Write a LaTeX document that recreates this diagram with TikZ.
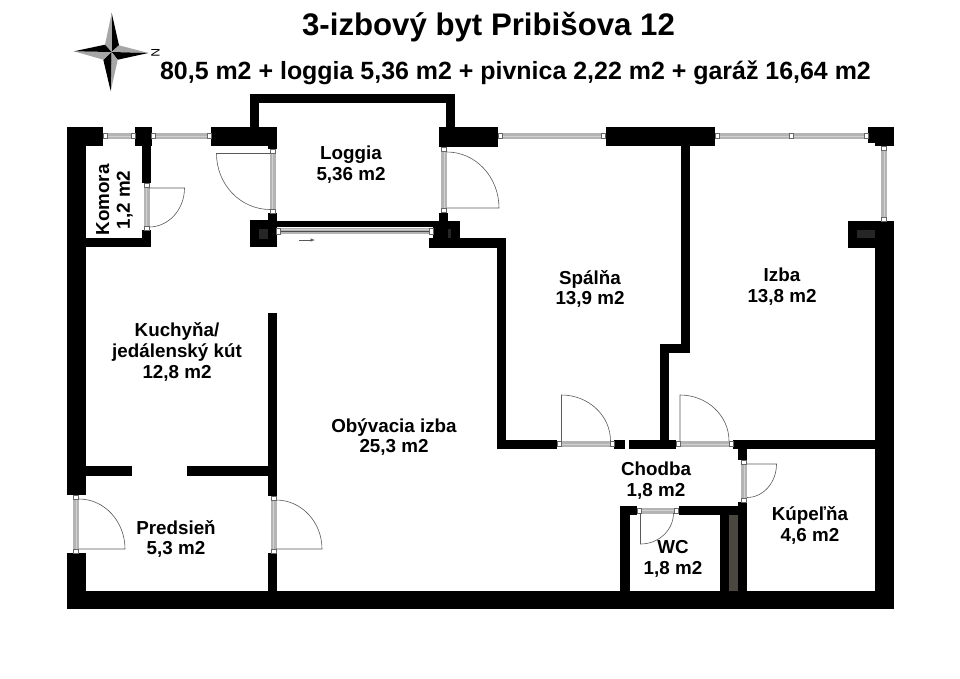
\documentclass[tikz,border=0pt]{standalone}
\usepackage{fontspec}
\setmainfont{Liberation Sans}
\definecolor{windowgrey}{HTML}{B4B4B4}
\definecolor{flue}{HTML}{262626}
\definecolor{shaft}{HTML}{4A4640}
\tikzset{
  wall/.style={fill=black},
  roomlabel/.style={font=\bfseries\fontsize{18.8}{20.8}\selectfont,align=center,inner sep=0pt},
  doorleaf/.style={draw=black!65,line width=0.6pt},
  pane/.style={fill=windowgrey},
  paneline/.style={draw=black!18,line width=0.5pt},
  stop/.style={draw=black!60,fill=white,line width=0.5pt}
}
\begin{document}
\begin{tikzpicture}[x=1pt,y=-1pt]
      \useasboundingbox (0,0) rectangle (960,678);
      \foreach \xa/\ya/\xb/\yb in {67/127/103/146,67/127/85.5/495,67/553/85.5/609,67/591/893.5/609,
        85/238/151/247,135/127/151.5/146,142/146/151/183,142/230/151/247,
        211/127/277/146,268/146/277/149,249.5/93.5/258.5/127,249.5/93.5/454.5/102.5,445.5/93.5/454.5/127,
        439/127/498/147,249.5/220/277/247,268/213/277/220,277/220.5/439/227,
        439/212.5/448/221,433/220.5/460/238,429/238/505.5/247.5,496.5/238/505.5/448.5,496.5/440/557/448.5,
        614/440/625/448.5,628.5/440/676/448.5,660/344/669/448.5,660/344/690/352.5,680.5/146/689.5/352.5,
        605.5/127/715/146,868/127/893.5/143,875/143/893.5/146,847.5/221/893.5/247.5,875/221/893.5/609,
        733/440/875/448.5,738/448/747/460,738/502/747/591,
        620/506/629.5/591,620/506/637/515,678.5/506/738/515,720/515/729/591,
        85/466/131.5/475.5,187/466/268/475.5,268/313/277/496,268/553/277/591}{
        \fill [wall] (\xa,\ya) rectangle (\xb,\yb);
      }
      \fill [flue] (258.7,229) rectangle (268,238.7);
      \fill [flue] (856.7,230) rectangle (875,238.3);
      \fill [flue] (448,229) rectangle (451,238);
      \fill [shaft] (729,515) rectangle (738,591);
      % windows and door frames along x
      \foreach \xa/\xb/\y in {103/135/136,151.5/211/136,498/605.5/136,715/868/136,
        557/614/444,676/733/444,637/678.5/510.5}{
        \fill [pane] (\xa,\y-3) rectangle (\xb,\y+3);
        \draw [paneline] (\xa,\y) -- (\xb,\y);
        \draw [stop] (\xa,\y-2.5) rectangle ++ (4,5);
        \draw [stop] (\xb-4,\y-2.5) rectangle ++ (4,5);
      }
      \draw [stop] (789.5,133.5) rectangle ++ (3.6,5);
      % the same along y
      \foreach \x/\ya/\yb in {146.5/183/230,272.5/149/213,444/147/212.5,884/146/221,
        76/495/553,273.5/496/553,744/460/502}{
        \fill [pane] (\x-3,\ya) rectangle (\x+3,\yb);
        \draw [paneline] (\x,\ya) -- (\x,\yb);
        \draw [stop] (\x-2.5,\ya) rectangle ++ (5,4);
        \draw [stop] (\x-2.5,\yb-4) rectangle ++ (5,4);
      }
      \fill [pane] (276,228) rectangle (433,234);
      \draw [paneline] (278,229.5) -- (431,229.5);
      \draw [black!70,line width=0.9pt] (279,231.5) -- (431,231.5);
      \draw [stop] (276,228) rectangle ++ (4,6);
      \draw [stop] (429,228) rectangle ++ (4,6);
      \draw [-latex,black!65,line width=0.5pt] (299,240) -- (315,240);
      % door leaves, centre/radii/start angle/end angle
      \foreach \cx/\cy/\rx/\ry/\aa/\ab in {149/188/35.5/39/0/-90,270/153.5/53.5/56/180/270,447/208/52/56/0/90,
        561.5/441/49/46/90/0,680/441/49/46/90/0,747/464/29.5/33.5/0/-90,640.5/513/33/31/-90/0,
        79/549/46/50/0/90,276/549/46/49/0/90}{
        \draw [doorleaf] (\cx,\cy) -- ++ (\aa:\rx pt and \ry pt) arc [start angle=\aa,end angle=\ab,x radius=\rx pt,y radius=\ry pt];
      }
      % compass
      \fill [black] (111.5,52) -- (111.7,13) -- (119,45.3) -- cycle;
      \fill [black!35] (111.5,52) -- (111.7,13) -- (105,44.7) -- cycle;
      \fill [black!35] (111.5,52) -- (148.3,53) -- (119,45.3) -- cycle;
      \fill [black] (111.5,52) -- (148.3,53) -- (117.7,59.7) -- cycle;
      \fill [black!35] (111.5,52) -- (110.7,91.3) -- (117.7,59.7) -- cycle;
      \fill [black] (111.5,52) -- (110.7,91.3) -- (103.3,59.7) -- cycle;
      \fill [black!35] (111.5,52) -- (74,51.3) -- (103.3,59.7) -- cycle;
      \fill [black] (111.5,52) -- (74,51.3) -- (105,44.7) -- cycle;
      \node (north) at (155.5,53) [rotate=-90,font=\fontsize{12}{13}\selectfont,inner sep=0pt] {N};
      % texts
      \node (title) at (488.5,27.5) [font=\bfseries\fontsize{31.2}{34}\selectfont,inner sep=0pt] {3-izbový byt Pribišova 12};
      \node (areas) at (515.5,73) [font=\bfseries\fontsize{24.95}{28}\selectfont,inner sep=0pt] {80,5 m2 + loggia 5,36 m2 + pivnica 2,22 m2 + garáž 16,64 m2};
      \node (loggia) at (351,164.5) [roomlabel] {Loggia\\5,36 m2};
      \node (komora) at (114.5,200) [roomlabel,rotate=90] {Komora\\1,2 m2};
      \node (spalna) at (590,289) [roomlabel] {Spálňa\\13,9 m2};
      \node (izba) at (782,286.5) [roomlabel] {Izba\\13,8 m2};
      \node (kuchyna) at (177,352) [roomlabel] {Kuchyňa/\\jedálenský kút\\12,8 m2};
      \node (obyvacia) at (394,437) [roomlabel] {Obývacia izba\\25,3 m2};
      \node (chodba) at (656,480.5) [roomlabel] {Chodba\\1,8 m2};
      \node (predsien) at (176,539) [roomlabel] {Predsieň\\5,3 m2};
      \node (kupelna) at (810,525.5) [roomlabel] {Kúpeľňa\\4,6 m2};
      \node (wc) at (673,559) [roomlabel] {WC\\1,8 m2};
    \end{tikzpicture}
\end{document}
